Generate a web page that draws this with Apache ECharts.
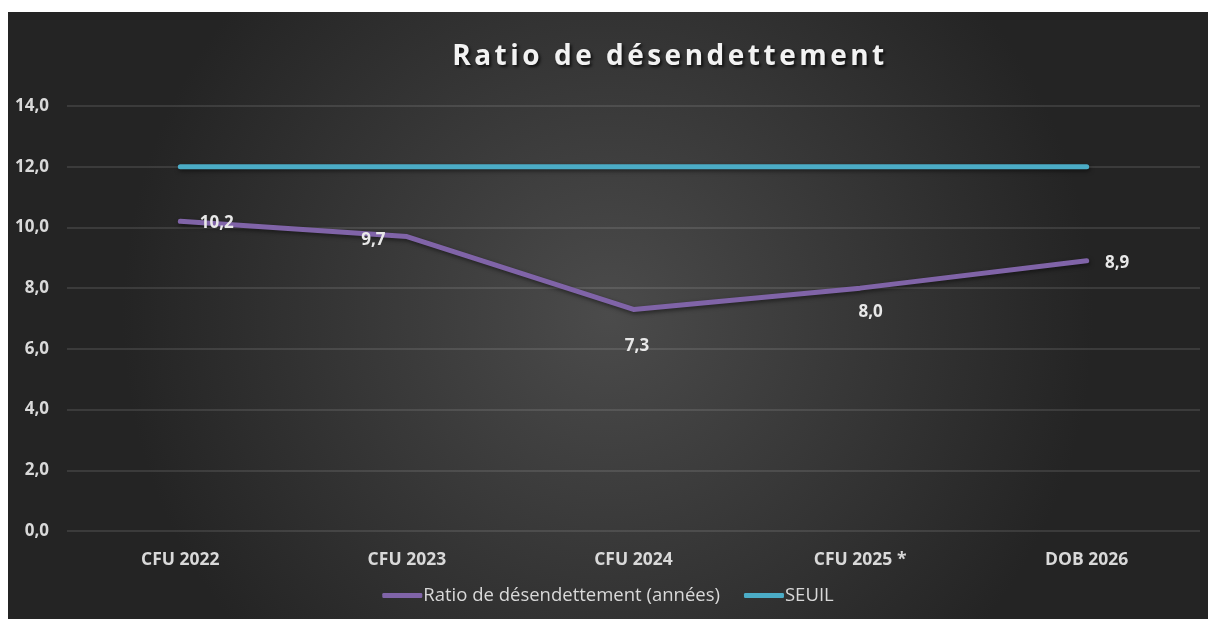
<!DOCTYPE html>
<html><head><meta charset="utf-8">
<script src="https://cdn.jsdelivr.net/npm/echarts@6/dist/echarts.min.js"></script>
<style>
html,body{margin:0;padding:0;background:#fff;width:1208px;height:619px;overflow:hidden;}
#c{position:absolute;left:8px;top:12px;width:1200px;height:607px;}
#t{position:absolute;left:8px;top:34px;width:1324px;text-align:center;font-family:"Open Sans",sans-serif;font-weight:700;font-size:28px;letter-spacing:3.5px;color:#f2f2f2;text-shadow:2px 2px 3px rgba(0,0,0,0.7);pointer-events:none;line-height:40px;}
</style></head><body>
<div id="c"></div>
<div id="t">Ratio de désendettement</div>
<script>
const categories = ['CFU 2022','CFU 2023','CFU 2024','CFU 2025 *','DOB 2026'];
const ratioValues = [10.2, 9.7, 7.3, 8.0, 8.9];
const seuilValues = [12, 12, 12, 12, 12];
const seriesNames = ['Ratio de désendettement (années)', 'SEUIL'];
const yTicks = {min: 0, max: 14, interval: 2};

const labelOffsets = [[37,2],[-33,4],[4,37],[11,25],[31,3]];
const fmt = v => v.toFixed(1).replace('.', ',');
const chart = echarts.init(document.getElementById('c'));
const axisFont = {color:'#d9d9d9', fontFamily:'"Open Sans", sans-serif', fontWeight:'bold'};
chart.setOption({
  backgroundColor: {
    type:'radial', x:0.5, y:0.5, r:0.8,
    colorStops:[{offset:0,color:'#4b4b4b'},{offset:1,color:'#242424'}]
  },
  animation:false,
  grid:{left:59, right:8, top:94, bottom:88, containLabel:false},
  legend:{
    bottom:9, left:'center',
    itemWidth:40, itemHeight:5, itemGap:24,
    icon:'roundRect',
    textStyle:{color:'#d9d9d9', fontFamily:'"Open Sans", sans-serif', fontSize:18.5, padding:[0,0,0,-4]},
    data:seriesNames
  },
  xAxis:{
    type:'category', data:categories, boundaryGap:true,
    axisLine:{show:false}, axisTick:{show:false},
    axisLabel:Object.assign({margin:20, fontSize:17.5}, axisFont)
  },
  yAxis:{
    type:'value', min:yTicks.min, max:yTicks.max, interval:yTicks.interval,
    axisLine:{show:false}, axisTick:{show:false},
    axisLabel:Object.assign({margin:18, fontSize:17, formatter:v=>fmt(v)}, axisFont),
    splitLine:{lineStyle:{color:'rgba(255,255,255,0.14)', width:1.5}}
  },
  series:[
    {
      name:seriesNames[0], type:'line', symbol:'circle', symbolSize:1, showSymbol:true,
      data:ratioValues.map((v,i)=>({value:v, label:{position:labelOffsets[i]}})),
      lineStyle:{color:'#8064a8', width:5, cap:'round', join:'round', shadowColor:'rgba(0,0,0,0.5)', shadowBlur:4, shadowOffsetX:1, shadowOffsetY:2},
      itemStyle:{color:'#8064a8'},
      label:{show:true, color:'#e8e8e8', align:'center', verticalAlign:'middle', fontFamily:'"Open Sans", sans-serif', fontWeight:'bold', fontSize:17, formatter:p=>fmt(p.value)},
      z:3
    },
    {
      name:seriesNames[1], type:'line', symbol:'none',
      data:seuilValues,
      lineStyle:{color:'#4bacc6', width:5, cap:'round', shadowColor:'rgba(0,0,0,0.5)', shadowBlur:4, shadowOffsetX:1, shadowOffsetY:2},
      itemStyle:{color:'#4bacc6'},
      z:2
    }
  ]
});
</script>
</body></html>
